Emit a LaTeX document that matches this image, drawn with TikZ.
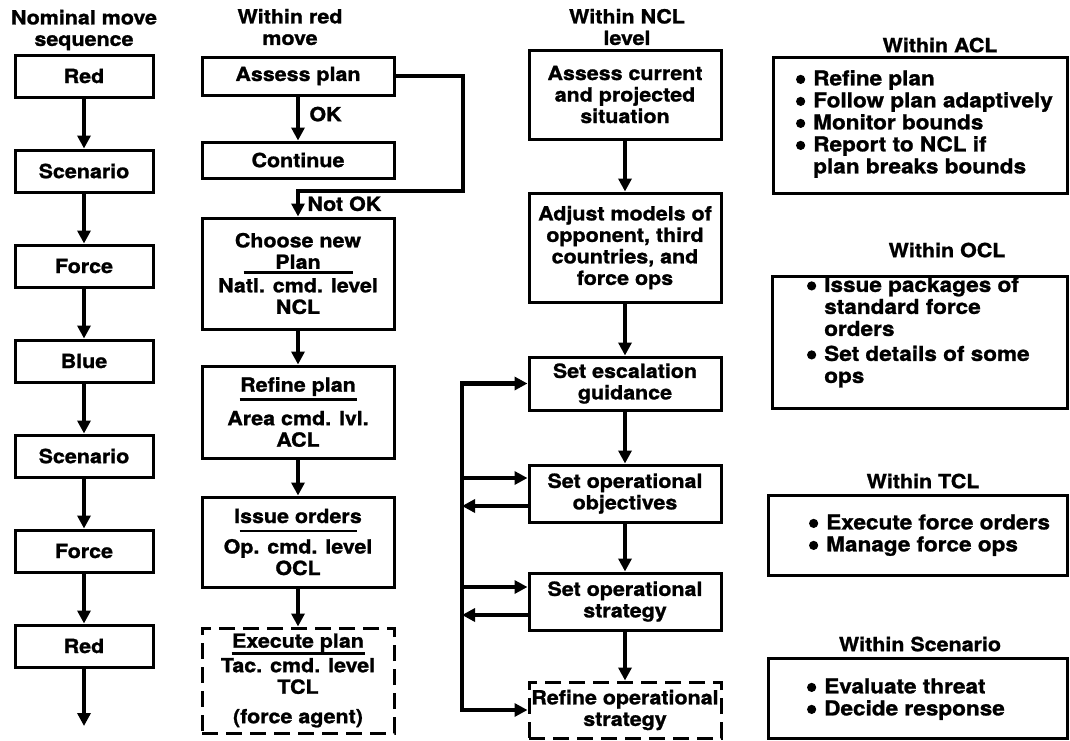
\documentclass[tikz,border=0pt]{standalone}
\usepackage{fontspec}
\setmainfont{TeX Gyre Heros}[FakeStretch=1.1,BoldFeatures={FakeBold=1.2}]
\usepackage{tikz}
\usetikzlibrary{arrows.meta,positioning}

\newcommand{\subline}[3]{\makebox[0pt]{\raisebox{-#1}[0pt][0pt]{\rule{#2}{2.4pt}}}\makebox[0pt]{#3}}
\newcommand{\bul}{\tikz[baseline=0pt]\fill (0pt,6pt) circle[radius=4.6pt];}

\begin{document}
\begin{tikzpicture}[x=1pt,y=-1pt,
    every node/.style={font=\fontsize{19.5}{21.5}\selectfont\bfseries},
    movebox/.style={draw,line width=3pt,minimum width=138pt,minimum height=42pt,inner sep=2pt},
    planbox/.style={draw,line width=3pt,align=center,minimum width=192pt,inner sep=2pt},
    dashbox/.style={dash pattern=on 16pt off 8pt},
    listbox/.style={draw,line width=3pt},
    listtext/.style={anchor=west,font=\fontsize{20.5}{22}\selectfont\bfseries},
    flow/.style={-{Triangle[length=13pt,width=13pt]},line width=4.2pt},
    twoway/.style={{Triangle[length=13pt,width=13pt]}-{Triangle[length=13pt,width=13pt]},line width=4.2pt}]
\useasboundingbox (0,0) rectangle (1070,740);

% nominal move sequence
\node[align=center] (seqt) at (84,30) {Nominal move\\sequence};
\node[movebox] (red1) at (84,76) {Red};
\node[movebox] (scen1) at (84,171) {Scenario};
\node[movebox] (force1) at (84,266) {Force};
\node[movebox] (blue) at (84,361) {Blue};
\node[movebox] (scen2) at (84,456) {Scenario};
\node[movebox] (force2) at (84,551) {Force};
\node[movebox] (red2) at (84,646) {Red};
\coordinate (next) at (84,726);
\draw[flow] (red1) -- (scen1);
\draw[flow] (scen1) -- (force1);
\draw[flow] (force1) -- (blue);
\draw[flow] (blue) -- (scen2);
\draw[flow] (scen2) -- (force2);
\draw[flow] (force2) -- (red2);
\draw[flow] (red2) -- (next);

% within red move
\node[align=center] (redt) at (290,27) {Within red\\move};
\node[planbox,minimum height=38pt] (assess) at (298,76) {Assess plan};
\node[planbox,minimum height=36pt] (cont) at (298,160) {Continue};
\node[planbox,minimum height=111pt] (choose) at (298,273.5) {Choose new\\\subline{5pt}{109pt}{Plan}\\[2pt]Natl. cmd. level\\NCL};
\node[planbox,minimum height=92pt] (refine) at (298,412) {\subline{9pt}{117pt}{Refine plan}\\[12pt]Area cmd. lvl.\\ACL};
\node[planbox,minimum height=90pt] (issue) at (298,542) {\subline{9pt}{117pt}{Issue orders}\\[9pt]Op. cmd. level\\OCL};
\node[planbox,dashbox,minimum height=105pt] (exec) at (298,680.5) {\subline{7pt}{133pt}{Execute plan}\\[3pt]Tac. cmd. level\\TCL\\[8pt](force agent)};
\coordinate (turn) at (463,191);
\draw[flow] (assess) -- node[right=6pt,pos=0.4] (ok) {OK} (cont);
\draw[flow] (assess.east) -| (turn) -- (turn -| choose)
  node[anchor=north west,xshift=4pt] (notok) {Not OK} -- (choose.north);
\draw[flow] (choose) -- (refine);
\draw[flow] (refine) -- (issue);
\draw[flow] (issue) -- (exec);

% within NCL level
\node[align=center] (nclt) at (627,27) {Within NCL\\level};
\node[planbox,minimum height=89pt] (acur) at (625,94.5) {Assess current\\and projected\\situation};
\node[planbox,minimum height=109pt] (adj) at (625,247.5) {Adjust models of\\opponent, third\\countries, and\\force ops};
\node[planbox,minimum height=53pt] (esc) at (625,383.5) {Set escalation\\guidance};
\node[planbox,minimum height=57pt] (obj) at (625,493.5) {Set operational\\objectives};
\node[planbox,minimum height=57pt] (strat) at (625,601.5) {Set operational\\strategy};
\node[planbox,dashbox,minimum height=56pt] (reref) at (625,710) {Refine operational\\strategy};
\draw[flow] (acur) -- (adj);
\draw[flow] (adj) -- (esc);
\draw[flow] (esc) -- (obj);
\draw[flow] (obj) -- (strat);
\draw[flow] (strat) -- (reref);
\coordinate (fb) at (462,550);
\coordinate (objin) at ([yshift=15.5pt]obj.west);
\coordinate (objout) at ([yshift=-12.5pt]obj.west);
\coordinate (stratin) at ([yshift=14.5pt]strat.west);
\coordinate (stratout) at ([yshift=-13.5pt]strat.west);
\draw[twoway] (esc.west) -| (fb) |- (reref.west);
\draw[flow] (fb |- objin) -- (objin);
\draw[flow] (objout) -- (fb |- objout);
\draw[flow] (fb |- stratin) -- (stratin);
\draw[flow] (stratout) -- (fb |- stratout);

% level descriptions
\node (aclt) at (940,45) {Within ACL};
\node[listbox,minimum width=294pt,minimum height=136pt] (acl) at (920,125) {};
\node[listtext] (acll) at ([xshift=21pt]acl.west) {\begin{tabular}{@{}l@{\hspace{8pt}}l@{}}
  \bul & Refine plan\\
  \bul & Follow plan adaptively\\
  \bul & Monitor bounds\\
  \bul & Report to NCL if\\
       & plan breaks bounds
  \end{tabular}};

\node (oclt) at (947,250) {Within OCL};
\node[listbox,minimum width=295pt,minimum height=132pt] (ocl) at (919.5,342) {};
\node[listtext] (ocll) at ([xshift=33pt,yshift=9pt]ocl.west) {\begin{tabular}{@{}l@{\hspace{8pt}}l@{}}
  \bul & Issue packages of\\
       & standard force\\
       & orders\\[3pt]
  \bul & Set details of some\\
       & ops
  \end{tabular}};

\node (tclt) at (923,481) {Within TCL};
\node[listbox,minimum width=299pt,minimum height=80pt] (tcl) at (917.5,535) {};
\node[listtext] (tcll) at ([xshift=39pt,yshift=-1pt]tcl.west) {\begin{tabular}{@{}l@{\hspace{8pt}}l@{}}
  \bul & Execute force orders\\
  \bul & Manage force ops
  \end{tabular}};

\node (scent) at (920,644) {Within Scenario};
\node[listbox,minimum width=299pt,minimum height=80pt] (scen) at (917.5,698) {};
\node[listtext] (scenl) at ([xshift=37pt,yshift=-2pt]scen.west) {\begin{tabular}{@{}l@{\hspace{8pt}}l@{}}
  \bul & Evaluate threat\\
  \bul & Decide response
  \end{tabular}};
\end{tikzpicture}
\end{document}
